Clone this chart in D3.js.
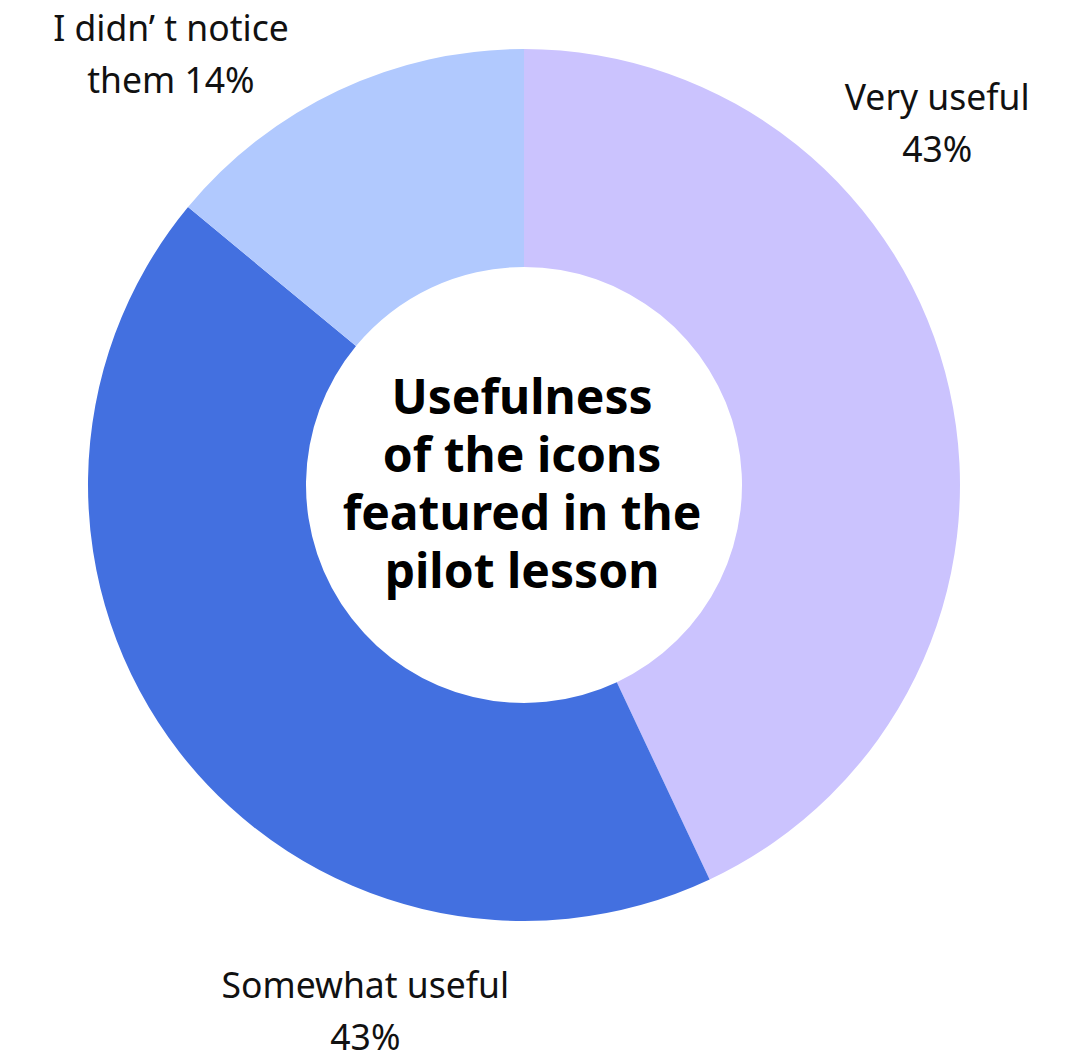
<!DOCTYPE html>
<html>
<head>
<meta charset="utf-8">
<script src="https://cdn.jsdelivr.net/npm/d3@7"></script>
<style>
  body { margin: 0; background: #fff; }
  svg { display: block; }
</style>
</head>
<body>
<div id="chart"></div>
<script>
// data
const categories = ["Very useful", "Somewhat useful", "I didn\u2019 t notice them"];
const values = [43, 43, 14];
const colors = ["#cbc3fe", "#4370e0", "#b1c9fe"];
const labelLines = [
  ["Very useful", "43%"],
  ["Somewhat useful", "43%"],
  ["I didn\u2019 t notice", "them 14%"]
];
const titleLines = ["Usefulness", "of the icons", "featured in the", "pilot lesson"];

var width = 1085, height = 1053;
var cx = 524, cy = 485, outerR = 436, innerR = 218;

var svg = d3.select("#chart").append("svg")
  .attr("width", width).attr("height", height);
var g = svg.append("g").attr("transform", "translate(" + cx + "," + cy + ")");

var pie = d3.pie().sort(null).value(function (d) { return d; });
var arcs = pie(values);
var arc = d3.arc().innerRadius(innerR).outerRadius(outerR);

g.selectAll("path")
  .data(arcs)
  .join("path")
  .attr("d", arc)
  .attr("fill", function (d, i) { return colors[i]; });

// label placement: angle offset (deg) from slice start, and radius
var labelPos = [[49.8, 541], [41.6, 562], [10.2, 547]];
var fontSize = 35.5, lineH = 52;
arcs.forEach(function (a, i) {
  var ang = a.startAngle + labelPos[i][0] * Math.PI / 180;
  var r = labelPos[i][1];
  var x = r * Math.sin(ang), y = -r * Math.cos(ang);
  var t = g.append("text")
    .attr("text-anchor", "middle")
    .attr("font-family", "'Noto Sans', sans-serif")
    .attr("font-size", fontSize)
    .attr("fill", "#111");
  labelLines[i].forEach(function (line, k) {
    t.append("tspan")
      .attr("x", x)
      .attr("y", y + (k - (labelLines[i].length - 1) / 2) * lineH)
      .text(line);
  });
});

// centre title
var title = g.append("text")
  .attr("text-anchor", "middle")
  .attr("font-family", "'Noto Sans', sans-serif")
  .attr("font-weight", "bold")
  .attr("font-size", 48)
  .attr("fill", "#000");
titleLines.forEach(function (line, k) {
  title.append("tspan")
    .attr("x", -2)
    .attr("y", (k - 1.5) * 58 + 16)
    .text(line);
});
</script>
</body>
</html>
